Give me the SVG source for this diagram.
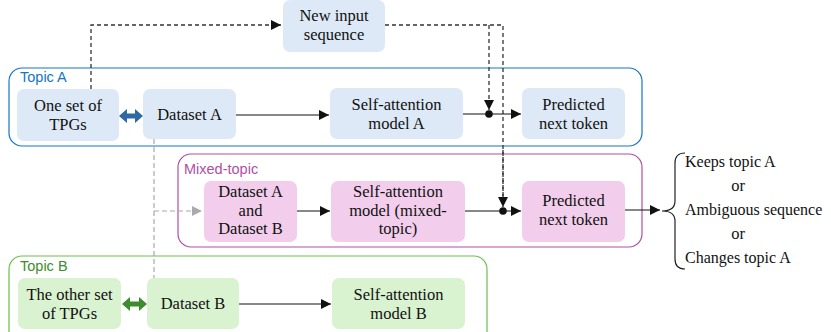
<svg xmlns="http://www.w3.org/2000/svg" width="831" height="332" viewBox="0 0 831 332">
<defs>
<style>
.t{font-family:"Liberation Serif","DejaVu Serif",serif;font-size:16.5px;fill:#111;text-anchor:middle}
.tl{font-family:"Liberation Serif","DejaVu Serif",serif;font-size:16px;fill:#111}
.lab{font-family:"Liberation Sans","DejaVu Sans",sans-serif;font-size:14.5px}
.nA{fill:#DDE9F6}
.nM{fill:#F2CEEC}
.nB{fill:#D9F2D0}
.ln{stroke:#111;stroke-width:1.2;fill:none}
.dash{stroke:#333;stroke-width:1.3;fill:none;stroke-dasharray:4 3}
.gdash{stroke:#AAA;stroke-width:1.2;fill:none;stroke-dasharray:5 3}
</style>
<marker id="ah" viewBox="0 0 10 10" refX="10" refY="5" markerWidth="10" markerHeight="10" markerUnits="userSpaceOnUse" orient="auto"><path d="M0,0 L10,5 L0,10 z" fill="#111"/></marker>
<marker id="ahg" viewBox="0 0 10 10" refX="10" refY="5" markerWidth="10" markerHeight="10" markerUnits="userSpaceOnUse" orient="auto"><path d="M0,0 L10,5 L0,10 z" fill="#AAA"/></marker>
</defs>

<g id="topicA">
<rect x="9" y="68" width="633" height="78" rx="13" fill="none" stroke="#1476C6" stroke-width="1.2"/>
<text x="20" y="82" class="lab" fill="#1476C6">Topic A</text>
</g>
<g id="mixed">
<rect x="178" y="154" width="464" height="93" rx="13" fill="none" stroke="#B04FA6" stroke-width="1.2"/>
<text x="184" y="174" class="lab" fill="#B04FA6">Mixed-topic</text>
</g>
<g id="topicB">
<rect x="9" y="256" width="478" height="90" rx="13" fill="none" stroke="#6CBF4F" stroke-width="1.2"/>
<text x="20" y="271" class="lab" fill="#3D8C2D">Topic B</text>
</g>

<g id="newInput">
<rect x="283" y="0" width="102" height="52" rx="7" class="nA"/>
<text x="334" y="21" class="t">New input</text>
<text x="334" y="40" class="t">sequence</text>
</g>

<g id="oneSet">
<rect x="17" y="89" width="102" height="52" rx="7" class="nA"/>
<text x="68" y="111" class="t">One set of</text>
<text x="68" y="130" class="t">TPGs</text>
</g>
<g id="datasetA">
<rect x="143" y="89" width="93" height="50" rx="7" class="nA"/>
<text x="189.5" y="120" class="t">Dataset A</text>
</g>
<g id="saA">
<rect x="330" y="88" width="133" height="51" rx="7" class="nA"/>
<text x="396.5" y="110" class="t">Self-attention</text>
<text x="396.5" y="129" class="t">model A</text>
</g>
<g id="predA">
<rect x="522" y="88" width="103" height="51" rx="7" class="nA"/>
<text x="573.5" y="110" class="t">Predicted</text>
<text x="573.5" y="129" class="t">next token</text>
</g>

<g id="datasetAB">
<rect x="204" y="181" width="93" height="61" rx="7" class="nM"/>
<text x="250.5" y="197" class="t">Dataset A</text>
<text x="250.5" y="215.5" class="t">and</text>
<text x="250.5" y="234" class="t">Dataset B</text>
</g>
<g id="saMixed">
<rect x="331" y="181" width="134" height="61" rx="7" class="nM"/>
<text x="398" y="197" class="t">Self-attention</text>
<text x="398" y="215.5" class="t">model (mixed-</text>
<text x="398" y="234" class="t">topic)</text>
</g>
<g id="predMixed">
<rect x="522" y="181" width="103" height="61" rx="7" class="nM"/>
<text x="573.5" y="206" class="t">Predicted</text>
<text x="573.5" y="225" class="t">next token</text>
</g>

<g id="otherSet">
<rect x="18" y="278" width="103" height="51" rx="7" class="nB"/>
<text x="69.5" y="300" class="t">The other set</text>
<text x="69.5" y="319" class="t">of TPGs</text>
</g>
<g id="datasetB">
<rect x="147" y="278" width="92" height="51" rx="7" class="nB"/>
<text x="193" y="309" class="t">Dataset B</text>
</g>
<g id="saB">
<rect x="332" y="278" width="133" height="51" rx="7" class="nB"/>
<text x="398.5" y="300" class="t">Self-attention</text>
<text x="398.5" y="319" class="t">model B</text>
</g>

<g id="outcomes">
<path d="M685,153 Q675,153 675,163 L675,201 Q675,211 662,211 Q675,211 675,221 L675,259 Q675,269 685,269" fill="none" stroke="#222" stroke-width="1.2"/>
<text x="685" y="167" class="tl">Keeps topic A</text>
<text x="738" y="191" class="t">or</text>
<text x="685" y="215" class="tl">Ambiguous sequence</text>
<text x="738" y="239" class="t">or</text>
<text x="685" y="263" class="tl">Changes topic A</text>
</g>

<g id="connectors">
<path d="M91,89 V25 H281" class="dash" marker-end="url(#ah)"/>
<path d="M385,25 H503 V205" class="dash"/>
<path d="M489,25 V110" class="dash" marker-end="url(#ah)"/>
<path d="M503,150 V207" class="dash" marker-end="url(#ah)"/>
<path d="M154,139 V278" class="gdash"/>
<path d="M154,211 H202" class="gdash" marker-end="url(#ahg)"/>
<path d="M236,115 H329" class="ln" marker-end="url(#ah)"/>
<path d="M463,114 H521" class="ln" marker-end="url(#ah)"/>
<circle cx="489" cy="114" r="3.8" fill="#111"/>
<path d="M297,211 H330" class="ln" marker-end="url(#ah)"/>
<path d="M465,211 H521" class="ln" marker-end="url(#ah)"/>
<circle cx="503" cy="211" r="3.8" fill="#111"/>
<path d="M625,210 H660" class="ln" marker-end="url(#ah)"/>
<path d="M239,304 H331" class="ln" marker-end="url(#ah)"/>
<path d="M119,116 L127,109 V113.5 H135 V109 L143,116 L135,123 V118.5 H127 V123 Z" fill="#2E69A3"/>
<path d="M122,304 L130,297 V301.5 H139 V297 L147,304 L139,311 V306.5 H130 V311 Z" fill="#3D8C2D"/>
</g>
</svg>
